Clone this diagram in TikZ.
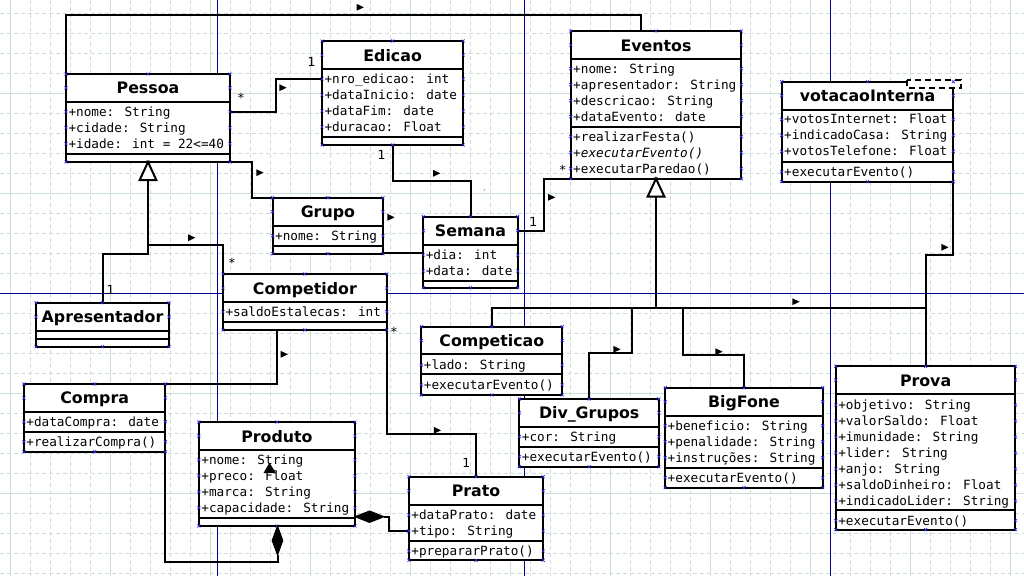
\documentclass[tikz,border=0pt]{standalone}
\usepackage{fontspec}
\setmainfont{DejaVu Sans}
\newfontfamily\monof{DejaVu Sans Mono}
\usetikzlibrary{fit}
\definecolor{gridc}{RGB}{205,222,218}
\definecolor{pagec}{RGB}{0,0,150}
\definecolor{cpc}{RGB}{40,40,235}
\tikzset{
 classbox/.style={draw=black, line width=2pt, fill=white, inner sep=0pt, outer sep=0pt},
 compline/.style={line width=2pt},
 titletext/.style={font=\fontsize{15.8}{18}\selectfont\bfseries, anchor=base, inner sep=0pt},
 rowtext/.style={font=\monof\fontsize{12.7}{16}\selectfont, anchor=base west, inner sep=0pt},
 conn/.style={line width=2pt, line join=miter},
 cpmark/.style={draw=cpc, line width=0.6pt},
 lbl/.style={font=\fontsize{12.5}{14}\selectfont, anchor=base, inner sep=0pt},
 gridminor/.style={draw=gridc, line width=1pt, dash pattern=on 4pt off 3pt},
 gridmajor/.style={draw=gridc, line width=1pt},
 pageline/.style={draw=pagec, line width=1pt},
 genarrow/.style={draw=black, line width=2pt, fill=white, line join=miter},
 compdiamond/.style={draw=black, line width=1pt, fill=black},
 dirmark/.style={fill=black},
 tmplbox/.style={draw=black, line width=2pt, fill=white, dash pattern=on 6pt off 4pt},
}
\newcommand{\cpm}[2]{\draw[cpmark] (#1-1.5,#2-1.5) -- (#1+1.5,#2+1.5) (#1-1.5,#2+1.5) -- (#1+1.5,#2-1.5);}
\newcommand{\umlclass}[8]{%
  \node[classbox, fit={(#2,#3) (#4,#7)}] (#1) {};
  \draw[compline] (#2,#5) -- (#4,#5);
  \draw[compline] (#2,#6) -- (#4,#6);
  \pgfmathsetmacro\tcy{(#3+#5)/2}
  \pgfmathsetmacro\tcx{(#2+#4)/2}
  \node[titletext] (#1-title) at (\tcx,\tcy+6) {#8};
  \cpm{#2}{#3}\cpm{\tcx}{#3}\cpm{#4}{#3}
  \cpm{#2}{#7}\cpm{\tcx}{#7}\cpm{#4}{#7}
  \cpm{#2}{\tcy}\cpm{#4}{\tcy}
}
\newcommand{\umlrows}[5]{%
  \foreach \t [count=\i from 0] in {#5} {
    \pgfmathsetmacro\ry{#4+16*\i}
    \node[rowtext] (#1-\i) at (#2+2.3,\ry+4.5) {\t};
    \cpm{#2}{\ry}\cpm{#3}{\ry}
  }}
\newcommand{\mkr}[2]{\fill[dirmark] (#1-3.6,#2-3.4) -- (#1+3.6,#2) -- (#1-3.6,#2+3.4) -- cycle;}
\begin{document}
\begin{tikzpicture}[x=1pt,y=-1pt]
\useasboundingbox (0,0) rectangle (1024,576);
\fill[white] (0,0) rectangle (1024,576);
% grid
\foreach \k in {0,...,50} {
  \pgfmathsetmacro\gx{10.5+20*\k}
  \pgfmathtruncatemacro\m{mod(\k,5)}
  \ifnum\m=0 \draw[gridmajor] (\gx,0) -- (\gx,576); \else \draw[gridminor] (\gx,0) -- (\gx,576); \fi
}
\foreach \k in {0,...,28} {
  \pgfmathsetmacro\gy{13.3+20*\k}
  \pgfmathtruncatemacro\m{mod(\k,5)}
  \ifnum\m=4 \draw[gridmajor] (0,\gy) -- (1024,\gy); \else \draw[gridminor] (0,\gy) -- (1024,\gy); \fi
}
% page break lines
\draw[pageline] (217.3,0) -- (217.3,576);
\draw[pageline] (524.3,0) -- (524.3,576);
\draw[pageline] (830.3,0) -- (830.3,576);
\draw[pageline] (0,293.3) -- (1024,293.3);

% connectors
\coordinate (c1a) at (66,15);
\coordinate (c1b) at (641,15);
\coordinate (c1e) at (641,31);
\draw[conn] (66,74) -- (c1a) -- (c1b) -- (c1e);
\draw[conn] (230,111.7) -- (276,111.7) -- (276,79) -- (322,79);
\draw[conn] (230,162) -- (252,162) -- (252,197.7) -- (272.7,197.7);
\draw[conn] (392.7,145) -- (392.7,181) -- (470.5,181) -- (470.5,216.7);
\draw[conn] (383,253) -- (423.3,253);
\draw[conn] (517.7,230.7) -- (544,230.7) -- (544,178.7) -- (570.7,178.7);
\draw[conn] (148,180) -- (148,254) -- (102.5,254) -- (102.5,302.7);
\draw[conn] (148,245) -- (223,245) -- (223,274);
\draw[conn] (656,196) -- (656,308);
\draw[conn] (491.8,326.7) -- (491.8,308) -- (925.6,308) -- (925.6,366.3);
\draw[conn] (589.2,399) -- (589.2,352.7) -- (632,352.7) -- (632,308);
\draw[conn] (744,387.7) -- (744,355) -- (683.3,355) -- (683.3,308);
\draw[conn] (953.3,181.7) -- (953.3,254.7) -- (925.6,254.7) -- (925.6,366.3);
\draw[conn] (276.8,330) -- (276.8,384) -- (165.4,384);
\draw[conn] (386.8,330) -- (386.8,434) -- (476,434) -- (476,476.7);
\draw[conn] (165.4,451.7) -- (165.4,561.7) -- (277.5,561.7) -- (277.5,555);
\draw[conn] (384,516.7) -- (388.6,516.7) -- (388.6,531) -- (408.9,531);

% classes
\umlclass{pessoa}{66}{74}{230}{101.7}{154}{162}{Pessoa}
\umlrows{pessoa-a}{66}{230}{111.7}{+nome: String,+cidade: String,+idade: int = 22<=40}

\umlclass{edicao}{322}{41}{463.3}{69}{136.7}{145}{Edicao}
\umlrows{edicao-a}{322}{463.3}{79}{+nro\_edicao: int,+dataInicio: date,+dataFim: date,+duracao: Float}

\umlclass{eventos}{570.7}{31}{741.3}{59}{127}{178.7}{Eventos}
\umlrows{eventos-a}{570.7}{741.3}{68.7}{+nome: String,+apresentador: String,+descricao: String,+dataEvento: date}
\umlrows{eventos-o}{570.7}{741.3}{136.7}{+realizarFesta(),\textit{+executarEvento()},+executarParedao()}

\umlclass{votacao}{781.7}{81.7}{953.3}{109.7}{162}{181.7}{votacaoInterna}
\umlrows{votacao-a}{781.7}{953.3}{119.3}{+votosInternet: Float,+indicadoCasa: String,+votosTelefone: Float}
\umlrows{votacao-o}{781.7}{953.3}{171.7}{+executarEvento()}
\draw[tmplbox] (907.3,80) rectangle (960.7,88.3);
\cpm{953.3}{81.7}

\umlclass{grupo}{272.7}{197.7}{383}{225.7}{246}{253.7}{Grupo}
\umlrows{grupo-a}{272.7}{383}{235.7}{+nome: String}

\umlclass{semana}{423.3}{216.7}{517.7}{244.7}{280.7}{287.7}{Semana}
\umlrows{semana-a}{423.3}{517.7}{255}{+dia: int,+data: date}

\umlclass{competidor}{223}{274}{386.8}{302}{321.7}{330}{Competidor}
\umlrows{competidor-a}{223}{386.8}{311.7}{+saldoEstalecas: int}

\umlclass{apresentador}{36}{302.7}{169}{331}{338.7}{346.7}{Apresentador}

\umlclass{compra}{23.9}{384}{165.4}{411.7}{432.3}{451.7}{Compra}
\umlrows{compra-a}{23.9}{165.4}{421.7}{+dataCompra: date}
\umlrows{compra-o}{23.9}{165.4}{441.7}{+realizarCompra()}

\umlclass{produto}{198.9}{422}{355}{450}{518}{526}{Produto}
\umlrows{produto-a}{198.9}{355}{459.7}{+nome: String,+preco: Float,+marca: String,+capacidade: String}

\umlclass{prato}{408.9}{476.7}{543.2}{504.7}{540.7}{560.3}{Prato}
\umlrows{prato-a}{408.9}{543.2}{515}{+dataPrato: date,+tipo: String}
\umlrows{prato-o}{408.9}{543.2}{551}{+prepararPrato()}

\umlclass{competicao}{421.4}{326.7}{562.2}{354.3}{374.3}{395}{Competicao}
\umlrows{competicao-a}{421.4}{562.2}{365}{+lado: String}
\umlrows{competicao-o}{421.4}{562.2}{385}{+executarEvento()}

\umlclass{divgrupos}{519.4}{399}{658.9}{426.7}{446.7}{466.7}{Div\_Grupos}
\umlrows{divgrupos-a}{519.4}{658.9}{436.7}{+cor: String}
\umlrows{divgrupos-o}{519.4}{658.9}{456.7}{+executarEvento()}

\umlclass{bigfone}{665.2}{387.7}{822.7}{415.7}{467.7}{487.7}{BigFone}
\umlrows{bigfone-a}{665.2}{822.7}{425.7}{+beneficio: String,+penalidade: String,+instruções: String}
\umlrows{bigfone-o}{665.2}{822.7}{477.7}{+executarEvento()}

\umlclass{prova}{835.8}{366.3}{1015.4}{394}{510}{529.7}{Prova}
\umlrows{prova-a}{835.8}{1015.4}{405}{+objetivo: String,+valorSaldo: Float,+imunidade: String,+lider: String,+anjo: String,+saldoDinheiro: Float,+indicadoLider: String}
\umlrows{prova-o}{835.8}{1015.4}{520.7}{+executarEvento()}

% generalization triangles
\draw[genarrow] (pessoa.south) -- (156.3,180) -- (139.7,180) -- cycle;
\draw[genarrow] (eventos.south) -- (664.3,196.5) -- (647.7,196.5) -- cycle;
% composition diamonds
\draw[compdiamond] (277.5,526) -- (282.8,540.5) -- (277.5,555) -- (272.2,540.5) -- cycle;
\draw[compdiamond] (355,516.7) -- (369.5,511) -- (384,516.7) -- (369.5,522.4) -- cycle;

% direction markers
\mkr{360.3}{7.3}
\mkr{283}{87.7}
\mkr{260}{172.7}
\mkr{436.7}{173.3}
\mkr{391}{217.3}
\mkr{551.7}{197.3}
\mkr{191.7}{237.7}
\mkr{945}{247.3}
\mkr{796}{301.7}
\mkr{617}{349.3}
\mkr{719}{351.7}
\mkr{284.3}{354.3}
\mkr{437.5}{430.3}
\fill[dirmark] (263.5,473) -- (269.5,462.7) -- (276,473.3) -- cycle;

% multiplicity labels
\node[lbl] (m1) at (241,102) {*};
\node[lbl] (m2) at (311.7,66.5) {1};
\node[lbl] (m3) at (381.7,159.2) {1};
\node[lbl] (m4) at (533.3,226.2) {1};
\node[lbl] (m5) at (562.7,174.3) {*};
\node[lbl] (m6) at (232,267.3) {*};
\node[lbl] (m7) at (110.7,294.5) {1};
\node[lbl] (m8) at (394,336.3) {*};
\node[lbl] (m9) at (466.4,467.8) {1};
\node[lbl, font=\fontsize{6}{7}\selectfont] (m10) at (484.3,190) {,};
\end{tikzpicture}
\end{document}
